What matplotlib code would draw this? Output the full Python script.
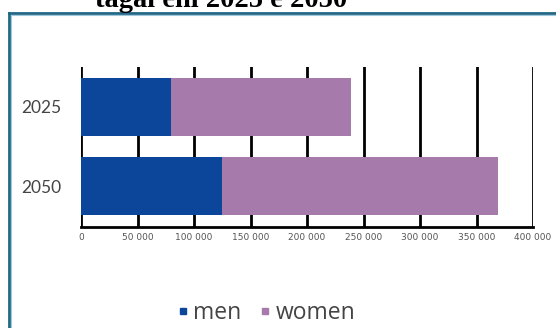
import matplotlib.pyplot as plt
from matplotlib.lines import Line2D

# Population by sex, 2025 and 2050
years = ['2050', '2025']
men = [125000, 80000]
women = [244000, 159000]
xticks = [0, 50000, 100000, 150000, 200000, 250000, 300000, 350000, 400000]
xtick_labels = ['0', '50 000', '100 000', '150 000', '200 000',
                '250 000', '300 000', '350 000', '400 000']

men_color = '#0b469b'
women_color = '#a67aab'

W, H = 556, 328
fig = plt.figure(figsize=(W / 100, H / 100), dpi=100)
ax = fig.add_axes([81 / W, 1 - 227 / H, 452 / W, 160 / H])

ypos = [0, 1]
ax.barh(ypos, men, height=0.73, color=men_color, zorder=3)
ax.barh(ypos, women, left=men, height=0.73, color=women_color, zorder=3)

ax.set_xlim(0, 400000)
ax.set_ylim(-0.51, 1.503)
ax.set_xticks(xticks)
ax.set_xticklabels(xtick_labels, fontsize=6.5, color='#555555',
                   family='Liberation Sans Narrow')
ax.set_yticks(ypos)
ax.set_yticklabels(years, fontsize=12.5, color='#444444', family='Lato')
ax.tick_params(axis='both', length=0, pad=4)
ax.tick_params(axis='y', pad=14)
ax.grid(axis='x', color='black', linewidth=2, zorder=1)

for side in ['top', 'right', 'left']:
    ax.spines[side].set_visible(False)
ax.spines['bottom'].set_linewidth(2)
ax.spines['bottom'].set_zorder(4)

# frame around the chart area
fig.add_artist(Line2D([8.5 / W, 8.5 / W], [0, 1 - 12.5 / H], color='#226785',
                      linewidth=2, transform=fig.transFigure))
fig.add_artist(Line2D([8.5 / W, 1], [1 - 12.5 / H, 1 - 12.5 / H], color='#226785',
                      linewidth=2, transform=fig.transFigure))
fig.add_artist(Line2D([10.5 / W, 10.5 / W], [0, 1 - 14.5 / H], color='#9fc8dc',
                      linewidth=0.8, transform=fig.transFigure))
fig.add_artist(Line2D([10.5 / W, 1], [1 - 14.5 / H, 1 - 14.5 / H], color='#9fc8dc',
                      linewidth=0.8, transform=fig.transFigure))

# title, running off the top edge
fig.text(95 / W, 1 - 7 / H, 'tagal eni 2025 e 2050', fontsize=20.5,
         fontweight='bold', family='Liberation Serif', va='baseline', ha='left')

handles = [Line2D([], [], marker='s', linestyle='none', markersize=5,
                  color=men_color),
           Line2D([], [], marker='s', linestyle='none', markersize=5,
                  color=women_color)]
fig.legend(handles, ['men', 'women'], loc='center',
           bbox_to_anchor=(266 / W, 1 - 313 / H), ncol=2, frameon=False,
           handlelength=0.5, handletextpad=0.2, columnspacing=0.8,
           prop={'family': 'Open Sans', 'size': 16.5}, labelcolor='#444444')

plt.savefig('out.png', dpi=100)
